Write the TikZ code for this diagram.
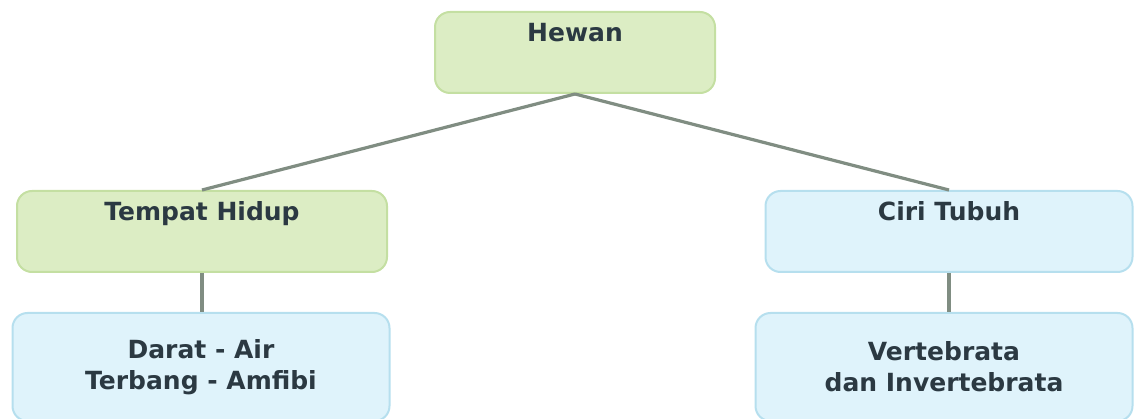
\documentclass[tikz,border=0pt]{standalone}
\usepackage{fontspec}
\setmainfont{DejaVu Sans}
\definecolor{hijau}{HTML}{DCEDC4}
\definecolor{hijaugaris}{HTML}{C4DFA2}
\definecolor{biru}{HTML}{DFF3FB}
\definecolor{birugaris}{HTML}{B6DFEE}
\definecolor{teks}{HTML}{2B3942}
\definecolor{garis}{HTML}{808D82}
\tikzset{
  kotak/.style={rounded corners=15pt, line width=2pt, inner sep=0pt, align=center,
    text=teks, font=\fontsize{25}{31}\selectfont\bfseries},
  hijaukotak/.style={kotak, fill=hijau, draw=hijaugaris},
  birukotak/.style={kotak, fill=biru, draw=birugaris},
  atas/.style={text height=30pt, text depth=51pt},
  hubung/.style={garis, line width=3.2pt}
}
\begin{document}
\begin{tikzpicture}[x=1pt,y=-1pt]
    \useasboundingbox (0,0) rectangle (1135,419);

\node[hijaukotak, atas, minimum width=280pt, anchor=north] (hewan) at (575,11) {Hewan};
\node[hijaukotak, atas, minimum width=370pt, anchor=north] (tempat) at (202,190) {Tempat Hidup};
\node[birukotak, atas, minimum width=367pt, anchor=north] (ciri) at (949,190) {Ciri Tubuh};

\node[birukotak, minimum width=377pt, minimum height=108pt, anchor=north] (darat) at (201,312) {Darat - Air\\Terbang - Amfibi};
\node[birukotak, minimum width=377pt, minimum height=108pt, anchor=north] (verte) at (944,312) {Vertebrata\\dan Invertebrata};

  \draw[hubung] (hewan.south) -- (tempat.north);
  \draw[hubung] (hewan.south) -- (ciri.north);
  \draw[hubung] (tempat.south) -- (tempat.south |- darat.north);
  \draw[hubung] (ciri.south) -- (ciri.south |- verte.north);

\end{tikzpicture}
\end{document}
